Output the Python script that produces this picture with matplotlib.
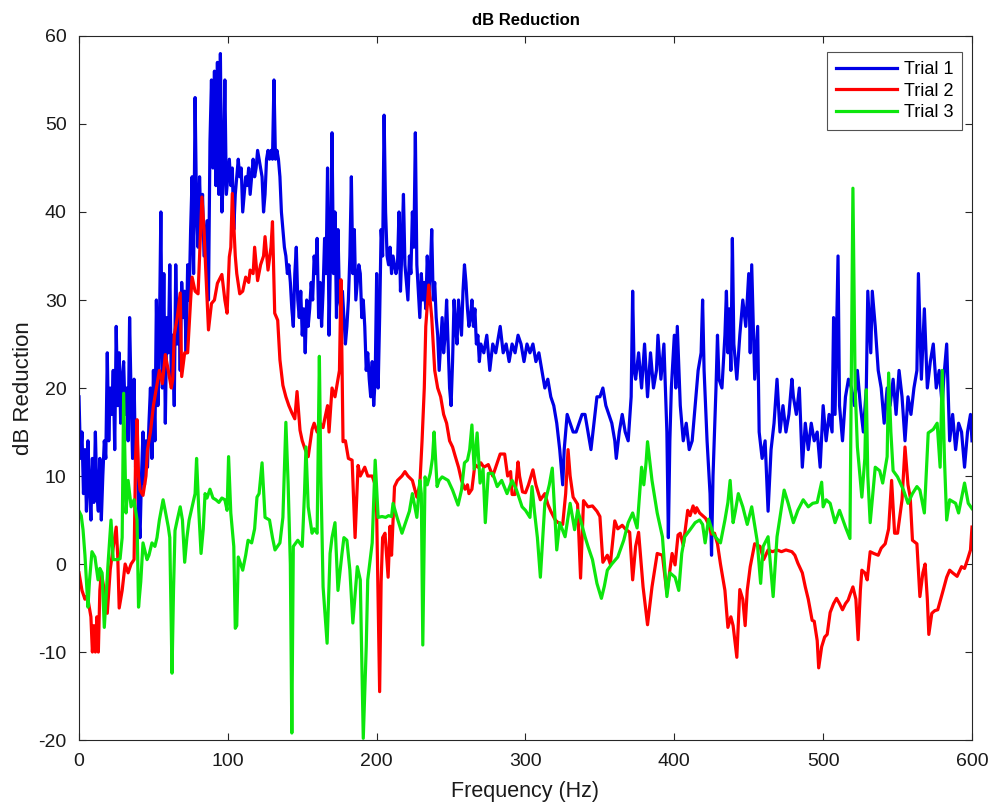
import matplotlib
matplotlib.use("Agg")
import matplotlib.pyplot as plt

plt.rcParams['font.family'] = ['Liberation Sans', 'DejaVu Sans']
plt.rcParams['axes.unicode_minus'] = False

# Trial 1 (blue)
f1 = [0, 1, 2, 3, 4, 5, 6, 7, 8, 9, 10, 11, 12, 13, 14, 15, 16, 17, 18, 19,
      20, 21, 22, 23, 24, 25, 26, 27, 28, 29, 30, 31, 32, 33, 34, 35, 36, 37, 38, 39,
      40, 41, 42, 43, 44, 45, 46, 47, 48, 49, 50, 51, 52, 53, 54, 55, 56, 57, 58, 59,
      60, 61, 62, 63, 64, 65, 66, 67, 68, 69, 70, 71, 72, 73, 74, 75, 76, 77, 78, 79,
      80, 81, 82, 83, 84, 85, 86, 87, 88, 89, 90, 91, 92, 93, 94, 95, 96, 97, 98, 99,
      100, 101, 102, 103, 104, 105, 106, 107, 108, 109, 110, 111, 112, 113, 114, 115, 116, 117, 118, 119,
      120, 121, 122, 123, 124, 125, 126, 127, 128, 129, 130, 131, 132, 133, 134, 135, 136, 137, 138, 139,
      140, 141, 142, 143, 144, 145, 146, 147, 148, 149, 150, 151, 152, 153, 154, 155, 156, 157, 158, 159,
      160, 161, 162, 163, 164, 165, 166, 167, 168, 169, 170, 171, 172, 173, 174, 175, 176, 177, 178, 179,
      180, 181, 182, 183, 184, 185, 186, 187, 188, 189, 190, 191, 192, 193, 194, 195, 196, 197, 198, 199,
      200, 201, 202, 203, 204, 205, 206, 207, 208, 209, 210, 211, 212, 213, 214, 215, 216, 217, 218, 219,
      220, 221, 222, 223, 224, 225, 226, 227, 228, 229, 230, 231, 232, 233, 234, 235, 236, 237, 238, 239,
      240, 241, 242, 243, 244, 245, 246, 247, 248, 249, 250, 251, 252, 253, 254, 255, 256, 257, 258, 259,
      260, 261, 262, 263, 264, 265, 266, 267, 268, 269, 270, 272, 274, 276, 278, 280, 282, 283, 285, 287,
      289, 291, 293, 295, 297, 299, 301, 303, 305, 307, 309, 311, 313, 315, 317, 319, 321, 323, 325, 326,
      328, 330, 332, 334, 336, 338, 340, 342, 344, 346, 348, 350, 352, 354, 356, 358, 360, 361, 363, 365,
      367, 369, 371, 372, 373, 374, 376, 378, 380, 382, 384, 386, 388, 389, 391, 393, 395, 396, 397, 398,
      400, 401, 402, 404, 406, 408, 410, 412, 414, 416, 418, 419, 420, 422, 424, 425, 426, 428, 429, 430,
      432, 434, 435, 436, 437, 438, 439, 440, 442, 444, 446, 448, 450, 451, 452, 454, 456, 457, 459, 461,
      463, 465, 467, 469, 471, 473, 475, 477, 479, 480, 482, 484, 486, 488, 490, 492, 494, 496, 498, 500,
      502, 504, 506, 507, 508, 510, 511, 513, 515, 517, 519, 521, 523, 525, 527, 529, 530, 532, 533, 535,
      537, 539, 541, 543, 545, 547, 549, 551, 553, 555, 557, 559, 561, 563, 564, 566, 568, 570, 572, 574,
      576, 578, 580, 581, 583, 585, 587, 589, 591, 593, 595, 597, 599, 600]
db1 = [19, 12, 15, 8, 13, 6, 14, 9, 5, 12, 7, 15, 8, 6, 12, 5, 10, 14, 12, 24,
       14, 20, 17, 22, 13, 27, 18, 24, 16, 21, 23, 17, 20, 14, 28, 19, 12, 21, 11, 16,
       6, 3, 10, 15, 9, 14, 11, 16, 20, 12, 22, 14, 30, 18, 26, 40, 20, 33, 16, 28,
       24, 34, 21, 26, 18, 34, 25, 30, 22, 32, 28, 31, 24, 34, 30, 38, 44, 33, 53, 40,
       36, 44, 38, 42, 35, 37, 39, 30, 48, 55, 45, 56, 43, 57, 42, 58, 40, 44, 55, 42,
       44, 46, 43, 45, 38, 42, 44, 46, 44, 45, 40, 42, 44, 43, 45, 42, 44, 46, 44, 45,
       47, 46, 45, 44, 40, 42, 46, 47, 46, 47, 46, 55, 46, 47, 46, 44, 40, 38, 36, 35,
       33, 34, 32, 29, 27, 33, 36, 30, 28, 31, 26, 29, 24, 30, 27, 29, 32, 30, 35, 33,
       37, 28, 32, 27, 31, 37, 33, 45, 26, 35, 49, 33, 40, 28, 38, 30, 29, 31, 28, 25,
       27, 30, 35, 44, 33, 38, 30, 32, 34, 33, 28, 30, 27, 22, 24, 21, 19, 23, 18, 21,
       33, 20, 28, 38, 35, 51, 40, 35, 34, 36, 33, 35, 34, 33, 34, 40, 31, 36, 42, 34,
       32, 30, 35, 33, 40, 36, 49, 34, 31, 28, 33, 30, 32, 29, 35, 31, 33, 38, 30, 32,
       28, 26, 22, 25, 28, 24, 26, 30, 25, 20, 18, 23, 30, 27, 25, 30, 28, 26, 31, 34,
       32, 29, 27, 28, 30, 27, 29, 25, 26, 23, 25, 24, 26, 22, 25, 24, 26, 27, 24, 25,
       23, 25, 24, 26, 25, 23, 25, 24, 25, 23, 24, 22, 20, 21, 19, 18, 16, 13, 9, 13,
       17, 16, 15, 15, 16, 17, 17, 15, 13, 16, 19, 19, 20, 18, 17, 16, 14, 12, 15, 17,
       15, 14, 19, 31, 22, 21, 24, 20, 25, 19, 24, 20, 22, 26, 21, 25, 15, 3, 14, 20,
       26, 20, 27, 18, 14, 16, 13, 14, 18, 22, 24, 30, 22, 14, 8, 1, 10, 20, 26, 21,
       20, 26, 31, 24, 29, 22, 37, 25, 21, 26, 30, 27, 33, 24, 34, 21, 27, 15, 12, 14,
       6, 13, 16, 21, 15, 18, 15, 17, 21, 19, 17, 20, 11, 16, 13, 16, 14, 15, 11, 18,
       14, 17, 15, 28, 17, 35, 18, 14, 19, 21, 20, 18, 22, 18, 15, 20, 31, 24, 31, 27,
       22, 20, 16, 20, 18, 21, 17, 22, 19, 14, 19, 17, 20, 22, 33, 21, 29, 20, 23, 25,
       20, 22, 18, 21, 25, 14, 17, 13, 16, 15, 11, 15, 17, 14]

# Trial 2 (red)
f2 = [0, 2, 4, 5, 6, 8, 9, 10, 11, 12, 13, 14, 15, 17, 19, 21, 23, 25, 26, 27,
      29, 31, 33, 35, 37, 38, 39, 40, 41, 43, 45, 46, 48, 50, 52, 54, 56, 58, 60, 62,
      63, 64, 66, 68, 69, 71, 73, 75, 76, 78, 80, 81, 82.6, 84, 85, 87, 89, 91, 93, 96,
      98, 99.5, 101, 102, 103, 105, 106, 108, 110, 112, 114, 115, 117, 118, 120, 122, 124, 125, 127, 129,
      130, 131.5, 133.5, 135, 137, 139, 141, 143, 145, 146.5, 148.5, 150, 152, 154, 156.6, 158, 160, 162, 164, 165,
      167, 168, 170, 172, 174, 175, 176, 177.4, 179, 181, 183.5, 185.5, 187.5, 189, 192, 194, 197, 199, 200, 201,
      202, 203, 204, 205.6, 207.7, 209, 210, 212, 214, 217, 219, 221, 224, 227, 229, 230.5, 232, 233, 235, 237,
      239, 241, 243, 245, 247, 249, 251, 252.7, 255, 257, 259.4, 261, 262, 264, 266, 268, 270, 272, 275, 278,
      281, 283, 286, 288, 290, 291, 293, 295, 296, 298, 300, 302, 305, 307, 310, 313, 315, 317, 320, 322,
      325, 327, 328.6, 330, 332, 335, 337, 339, 342, 345, 348, 350, 352, 355, 357, 360, 362, 365, 367, 370,
      372, 374, 376, 379, 382, 385, 388.5, 392, 395, 398.5, 400.5, 402.5, 404, 406, 409, 410.6, 412.6, 414, 415, 417,
      419, 421, 423, 425, 427, 429, 431, 434, 436, 438, 439.5, 442, 444, 446, 447.6, 449, 451, 454, 457.6, 460,
      463, 466, 469, 472, 475, 477, 479, 481, 483, 486, 488, 490, 492.6, 494, 496, 497, 499, 501, 502.7, 504.7,
      507, 509, 511, 513, 515, 516.8, 518, 520, 522, 523.5, 525, 526, 528, 529.6, 531.6, 534, 537, 539, 541.7, 544,
      546, 548, 550, 553, 555, 557, 558.5, 560, 563, 565, 567, 568.5, 570, 571, 573, 575, 577, 579, 580.6, 583,
      585, 587, 590, 593, 595, 597, 599, 600]
db2 = [-1, -3, -4, -3.7, -4, -6, -10, -7, -10, -6, -10, -3, -1, -3, -5.6, -0.6, 1.9, 4.2, 1, -5,
       -3, 0, -1, 0, 0.5, 12, 16.4, 10, 8.4, 7.8, 10, 13, 15, 18, 20, 22, 20.5, 23.8, 22, 20,
       21, 26, 28, 30.8, 21.3, 24, 24, 30, 32.6, 31, 30.7, 35, 41.7, 38, 34, 26.6, 29.6, 30, 31.9, 32.9,
       30, 28.5, 34.9, 36, 42.1, 35, 33, 30.7, 31, 32.6, 32, 33.4, 33, 36, 32.2, 34, 35, 37.2, 33.4, 36,
       38.9, 28.5, 27.7, 23.2, 20.3, 19, 18, 17.2, 16.5, 19.6, 15.2, 14, 13, 12.2, 15.3, 16, 15, 16, 15.5, 16.4,
       18, 15, 20, 19, 21, 22, 32.3, 13.9, 14, 12, 11.8, 3, 11.2, 10, 11, 10, 10, 9, 5.8, -4,
       -14.5, -2, 3, 3.5, -1.5, 4.3, 1, 8.8, 9.5, 10, 10.5, 10, 9.5, 7.6, 9, 14, 20, 27, 31.7, 28,
       22, 20, 19, 17, 16, 14, 13.3, 12.3, 11, 9.5, 8.5, 9, 8, 8.5, 11.3, 11, 11.5, 11, 11.3, 10,
       11.5, 12.5, 12.5, 10, 10.5, 7.9, 7.9, 11.6, 10, 8.2, 8.1, 9, 10.7, 9, 7.3, 8, 6.8, 6, 5, 4.7,
       4.5, 8, 13, 10, 7.6, 6.8, -1.6, 7.2, 6.5, 6.6, 6, 5.4, 0.2, 1, 0, 4.9, 4, 4.4, 4, 3.6,
       -1.8, 2, 3.6, -2.6, -6.9, -2.6, 1.2, 1, -3.3, 1.2, -0.1, 3.3, 3.5, 2.1, 6.1, 5.5, 6.6, 5.8, 6.4, 5.8,
       5.5, 5.2, 4.5, 3.4, 3.5, 2.3, 0, -3, -7.2, -6, -7, -10.6, -2.9, -4, -7, -3, -0.3, 2.3, 2, 0.5,
       1.6, 1.4, 1.6, 1.4, 1.6, 1.5, 1.4, 1, 0.1, -1, -2.6, -4, -6.4, -6.5, -8.7, -11.8, -9.4, -8.3, -8, -5.5,
       -4.5, -3.9, -4.5, -5.2, -4.5, -4.1, -3.5, -2.6, -4, -8.6, -3, -0.7, -1, -1.8, 1.4, 1.2, 1, 1.8, 2.3, 4,
       9.5, 3.5, 3.5, 7.3, 13.3, 9, 7.6, 2.7, 2.3, -3.7, -1, 0, -4, -8, -5.6, -5.3, -5.2, -4, -3, -1.5,
       -0.7, -1, -1.4, -0.3, -0.5, 0.5, 1.6, 4.2]

# Trial 3 (green)
f3 = [0, 1.5, 2.7, 4, 6, 7, 8.7, 10.7, 12.8, 14, 15.5, 17, 18.5, 19.5, 21.5, 23, 25.5, 27.6, 29, 30,
      31.6, 33, 35, 37, 39, 40, 41.5, 43, 45.7, 47, 49, 51, 52.4, 54, 56.5, 58, 60, 61, 62.5, 63.5,
      64.5, 66, 68, 69.5, 71, 72.5, 74, 76, 78, 79, 80.5, 82, 83.5, 84.7, 86, 88, 90, 92, 94, 96,
      98, 99.5, 100.5, 102, 104, 105, 106, 107, 110, 112, 113.6, 116, 118, 119.6, 121, 123, 125, 128, 130, 131.7,
      135, 137, 139, 140.5, 142, 143, 144, 147, 150, 151.5, 152.5, 154, 156.6, 158, 160, 161.5, 162.5, 164, 166.7, 168.7,
      170, 172, 174, 176.7, 178, 180, 182, 184, 187, 189, 191, 193, 194, 197, 199, 201, 203.6, 206, 208, 210,
      211, 213.7, 217, 220, 222, 224, 227, 229, 230, 231, 232.5, 234, 236, 237.5, 238.6, 240.6, 242, 244, 246, 248,
      251, 254.7, 257, 259, 261, 262.5, 264, 265.5, 267.5, 269.5, 271.5, 273, 275, 278, 281, 284, 287.6, 291, 294, 297.7,
      300, 303, 304.4, 306, 308, 310, 313, 316, 318, 321, 323, 326.6, 330, 333, 335, 337, 340, 342, 345, 348,
      351, 353, 355, 358, 362, 366, 369, 372, 375, 378, 379.5, 381, 382, 385, 388.5, 392, 395, 397, 400.5, 403,
      405, 407, 410.6, 414, 417, 419, 420.7, 423, 426, 428, 431, 434, 436, 437.5, 439.5, 441, 443, 446, 449, 452,
      455.6, 458, 459.7, 463, 466.4, 469, 471, 473.8, 476.5, 480, 483, 486.6, 490, 493, 496, 499, 500, 502, 504.7, 508,
      511, 515, 518, 520, 521.5, 523, 526, 528, 529, 530, 531.6, 535, 538, 540, 543, 544, 545.5, 547, 550, 554,
      557, 560, 563, 565, 568, 570.6, 574, 576.6, 578.6, 580, 581.5, 583, 585, 589, 591, 595, 597.5, 600]
db3 = [6, 5.5, 3.9, 1, -4.9, -2, 1.4, 0.8, -1.8, -0.5, -1, -7.2, -3, 0, 5, 0.5, 0.5, 0.6, 3, 19.4,
       5.8, 9.5, 6.5, 7.3, 5, -4.9, -2, 2.4, 0.5, 1, 2.4, 2, 3, 5, 7.3, 6, 4.2, 3, -12.4, -3,
       3.8, 5, 6.5, 5, 0.2, 3, 5, 6.5, 8, 12, 6, 1.2, 4, 8, 7.5, 8.5, 7.5, 7.3, 7, 7.5,
       7.3, 6.1, 12.2, 5.8, 2, -7.3, -7, 0.8, -0.7, 1, 2.7, 2.4, 4, 7.6, 8, 11.5, 5.3, 5, 3, 1.6,
       2.4, 5.3, 16.1, 9.2, 0, -19.2, 2, 2.7, 2, 8, 13.3, 6.5, 3.5, 4, 3.5, 23.6, 10, -2.6, -9, 1.2,
       3, 4.7, -3, 1.2, 3, 2.7, -0.7, -6.7, -0.3, -1.8, -19.8, -9.4, -1.8, 2.4, 11.8, 5.3, 5.4, 5.3, 5.5, 5.4,
       6.9, 5.3, 3.5, 5, 6, 8, 5.3, 9.5, 8, -9.2, 9.9, 9, 10.3, 12, 15, 8.8, 9.5, 9.9, 9.7, 9.5,
       8.4, 6.7, 8.4, 11.5, 11.8, 13, 15.8, 10.8, 14.9, 9.2, 10.8, 4.7, 10.3, 10.3, 8.8, 9.5, 8, 9.5, 8.4, 6.5,
       6.1, 5.3, 8.8, 6, 3, -1.5, 6.9, 9, 10.9, 1.6, 4.7, 3.1, 6.9, 3.9, 6.1, 5, 3.1, 2, 0.5, -2.2,
       -3.9, -2.5, -0.7, 0, 0.8, 2.7, 4.7, 5.8, 4.1, 11, 9, 11.5, 13.9, 9.5, 5.8, 3.1, -3.7, -1, -1.5, -3,
       1.2, 3.1, 3.9, 4.7, 5, 4.5, 2.4, 5.1, 3.5, 3, 2.4, 5, 7, 9.5, 4.7, 6, 8, 6.5, 4.5, 6.5,
       2.7, -2.2, 2, 3.1, -3.7, 3.1, 5.3, 8.4, 6.9, 4.7, 6.1, 7.3, 6.5, 6.9, 7, 9.3, 6.5, 7.3, 6.9, 4.7,
       6.1, 4.2, 2.9, 42.7, 20, 13.3, 7.6, 12, 19.8, 10, 4.7, 11, 10.6, 9.2, 12.2, 21.7, 15, 10.6, 9.9, 8.4,
       6.9, 8, 8.8, 8.4, 5.8, 14.9, 15.3, 16, 11, 22, 12, 5, 7.3, 6.9, 5.8, 9.2, 6.9, 6.3]

fig = plt.figure(figsize=(9.9, 8.05), dpi=100)
ax = fig.add_axes([0.0798, 0.0807, 0.902, 0.8746])

ax.plot(f1, db1, color=(0, 0, 0.9), linewidth=2.3, label='Trial 1')
ax.plot(f2, db2, color=(1, 0, 0), linewidth=2.3, label='Trial 2')
ax.plot(f3, db3, color=(0.05, 0.9, 0.05), linewidth=2.3, label='Trial 3')

ax.set_xlim(0, 600)
ax.set_ylim(-20, 60)
ax.set_xticks(range(0, 601, 100))
ax.set_yticks(range(-20, 61, 10))
ax.tick_params(direction='in', top=True, right=True, length=5, width=0.8,
               labelsize=14, colors='#262626', labelcolor='#1a1a1a')
ax.tick_params(axis='x', pad=9)
ax.tick_params(axis='y', pad=9)
for s in ax.spines.values():
    s.set_color('#262626')
    s.set_linewidth(0.8)

ax.set_title('dB Reduction', fontsize=12, fontweight='bold', color='#000000', pad=8)
ax.set_xlabel('Frequency (Hz)', fontsize=15.5, color='#1a1a1a', labelpad=8)
ax.set_ylabel('dB Reduction', fontsize=16, color='#1a1a1a', labelpad=3)

leg = ax.legend(loc='upper right', bbox_to_anchor=(0.989, 0.977), borderaxespad=0,
                fontsize=13, handlelength=3.4, handletextpad=0.35, frameon=True,
                fancybox=False, edgecolor='#262626', borderpad=0.5, labelspacing=0.25)
leg.get_frame().set_linewidth(0.8)

fig.savefig('out.png', dpi=100)
